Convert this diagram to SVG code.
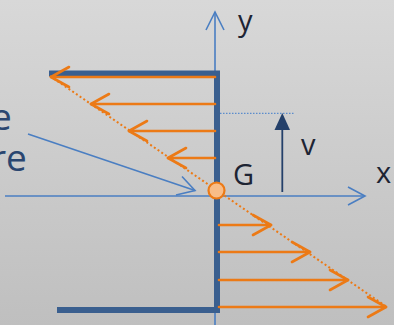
<svg xmlns="http://www.w3.org/2000/svg" width="394" height="325" viewBox="0 0 394 325">
  <defs>
    <linearGradient id="bg" x1="0" y1="0" x2="0" y2="1">
      <stop offset="0" stop-color="#d8d8d8"/>
      <stop offset="1" stop-color="#bfbfbf"/>
    </linearGradient>
  </defs>
  <style>
    .axis { stroke: #4a7ec2; stroke-width: 1.6; fill: none; }
    .beam { stroke: #3a5f8f; stroke-width: 6; fill: none; }
    .force { stroke: #ec7a16; stroke-width: 2.6; fill: none; stroke-linecap: round; stroke-linejoin: round; }
    .lbl { font-family: "Open Sans", "Liberation Sans", sans-serif; font-size: 29px; fill: #1d2433; }
    .side { font-family: "Open Sans", "Liberation Sans", sans-serif; font-size: 37px; fill: #2a4670; }
  </style>
  <rect width="394" height="325" fill="url(#bg)"/>

  <g id="axes">
    <line class="axis" x1="215" y1="12" x2="215" y2="325"/>
    <polyline class="axis" points="206,30 215,12 224,30"/>
    <line class="axis" x1="5" y1="196" x2="365" y2="196"/>
    <polyline class="axis" points="348,187 365,196 348,205"/>
    <text class="lbl" x="238" y="31" font-size="31">y</text>
    <text class="lbl" x="376" y="183">x</text>
  </g>

  <g id="section">
    <line class="beam" x1="49" y1="73.5" x2="220" y2="73.5"/>
    <line class="beam" x1="217" y1="71" x2="217" y2="313"/>
    <line class="beam" x1="57" y1="310" x2="220" y2="310"/>
  </g>

  <g id="stress-distribution">
    <line x1="50" y1="76" x2="387" y2="307" stroke="#ec7a16" stroke-width="2" stroke-dasharray="2 2.5"/>
    <line class="force" x1="215" y1="77" x2="51" y2="77"/>
    <polyline class="force" points="69,67 51,77 69,87"/>
    <line class="force" x1="215" y1="104" x2="91" y2="104"/>
    <polyline class="force" points="109,94 91,104 109,114"/>
    <line class="force" x1="215" y1="131" x2="129" y2="131"/>
    <polyline class="force" points="147,121 129,131 147,141"/>
    <line class="force" x1="215" y1="158" x2="168" y2="158"/>
    <polyline class="force" points="186,148 168,158 186,168"/>
    <line class="force" x1="219" y1="225" x2="271" y2="225"/>
    <polyline class="force" points="253,215 271,225 253,235"/>
    <line class="force" x1="219" y1="252" x2="310" y2="252"/>
    <polyline class="force" points="292,242 310,252 292,262"/>
    <line class="force" x1="219" y1="280" x2="348" y2="280"/>
    <polyline class="force" points="330,270 348,280 330,290"/>
    <line class="force" x1="219" y1="307" x2="386" y2="307"/>
    <polyline class="force" points="368,297 386,307 368,317"/>
  </g>

  <g id="G">
    <circle cx="216.5" cy="190.5" r="8" fill="#f9bd88" stroke="#ec7a16" stroke-width="2.2"/>
    <text class="lbl" x="233" y="185">G</text>
  </g>

  <g id="v">
    <line x1="220" y1="113.3" x2="295" y2="113.3" stroke="#5b8ccc" stroke-width="1.2" stroke-dasharray="1.5 1.5"/>
    <line x1="282.3" y1="192" x2="282.3" y2="126" stroke="#24406a" stroke-width="1.8"/>
    <polygon points="282.3,113 274.5,130 290,130" fill="#24406a"/>
    <text class="lbl" x="301" y="155">v</text>
  </g>

  <g id="neutral-label">
    <text class="side" x="-9" y="130">e</text>
    <text class="side" x="-9" y="171">re</text>
    <line class="axis" x1="28" y1="134" x2="195" y2="190.5"/>
    <polyline class="axis" points="182,176.5 195,190.5 176,195"/>
  </g>
</svg>
